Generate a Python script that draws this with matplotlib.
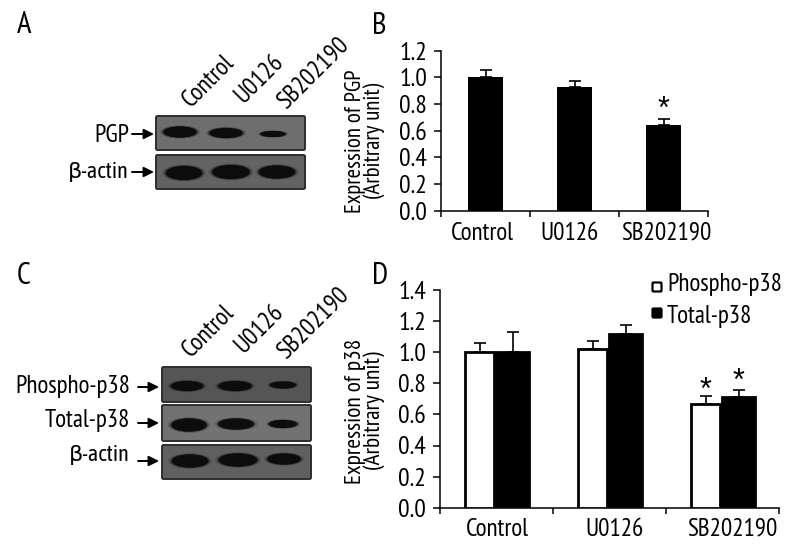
import matplotlib
matplotlib.use("Agg")
import matplotlib.pyplot as plt
from matplotlib.patches import Ellipse, FancyBboxPatch
import logging
logging.getLogger('matplotlib.font_manager').setLevel(logging.ERROR)

FONT = ['PT Sans Narrow', 'Barlow Condensed', 'Asap Condensed', 'DejaVu Sans']
BETA_FONT = ['Asap Condensed', 'PT Sans Narrow', 'DejaVu Sans']
STAR_FONT = ['Liberation Sans', 'DejaVu Sans']
plt.rcParams['font.family'] = FONT

# ---------- data ----------
groups = ['Control', 'U0126', 'SB202190']
pgp_values = [1.00, 0.93, 0.645]
pgp_err = [0.055, 0.045, 0.045]
pgp_yticks = [0.0, 0.2, 0.4, 0.6, 0.8, 1.0, 1.2]
phospho_values = [1.00, 1.02, 0.665]
phospho_err = [0.06, 0.05, 0.055]
total_values = [1.00, 1.115, 0.715]
total_err = [0.13, 0.06, 0.045]
p38_yticks = [0.0, 0.2, 0.4, 0.6, 0.8, 1.0, 1.2, 1.4]
series_names = ['Phospho-p38', 'Total-p38']

W, H = 800, 548
fig = plt.figure(figsize=(8, 5.48), dpi=100, facecolor='white')

def axpx(x0, x1, ytop, ybot):
    return fig.add_axes([x0 / W, 1 - ybot / H, (x1 - x0) / W, (ybot - ytop) / H])

def style(ax):
    for s in ('top', 'right'):
        ax.spines[s].set_visible(False)
    for s in ('left', 'bottom'):
        ax.spines[s].set_linewidth(1.1)
    ax.tick_params(axis='y', length=5, width=1.1, labelsize=18.5, pad=5)
    ax.set_xlim(0, 3)
    ax.set_xticks([0, 1, 2, 3])
    ax.set_xticklabels([])
    ax.tick_params(axis='x', length=4, width=1.1, direction='out')
    ax.patch.set_alpha(0)

# ---------- panel B ----------
axb = axpx(441, 708, 50.7, 210.5)
style(axb)
xb = [i + 0.5 for i in range(3)]
axb.bar(xb, pgp_values, width=0.39, color='black')
axb.errorbar(xb, pgp_values, yerr=[[0] * 3, pgp_err], fmt='none', ecolor='black',
             elinewidth=1.2, capsize=4, capthick=1.2)
axb.set_ylim(0, 1.2)
axb.set_yticks(pgp_yticks)
axb.set_yticklabels([f'{v:.1f}' for v in pgp_yticks])
axb.text(xb[2], pgp_values[2] + pgp_err[2] - 0.05, '*', ha='center', va='bottom', fontsize=22,
         family=STAR_FONT)
for x, g, dx in zip(xb, groups, [-0.03, -0.06, 0.03]):
    axb.text(x + dx, -0.085, g, ha='center', va='top', fontsize=18, clip_on=False)
fig.text(365 / W, 1 - 141 / H, 'Expression of PGP\n(Arbitrary unit)', rotation=90, ha='center',
         va='center', fontsize=16.5, linespacing=0.88)

# ---------- panel D ----------
axd = axpx(440, 779, 290, 507.7)
style(axd)
w_white = 0.257
w_black = 0.292
xd = [i + 0.5 for i in range(3)]
xp = [x - 0.15 for x in xd]
xt = [x + 0.1416 for x in xd]
axd.errorbar(xp, phospho_values, yerr=[[0] * 3, phospho_err], fmt='none', ecolor='black',
             elinewidth=1.2, capsize=4, capthick=1.2)
axd.errorbar(xt, total_values, yerr=[[0] * 3, total_err], fmt='none', ecolor='black',
             elinewidth=1.2, capsize=4, capthick=1.2)
axd.bar(xp, phospho_values, width=w_white, facecolor='white', edgecolor='black', linewidth=2, zorder=3)
axd.bar(xt, total_values, width=w_black, color='black', edgecolor='black', linewidth=2, zorder=3)
axd.set_ylim(0, 1.4)
axd.set_yticks(p38_yticks)
axd.set_yticklabels([f'{v:.1f}' for v in p38_yticks])
axd.text(xp[2], phospho_values[2] + phospho_err[2] - 0.065, '*', ha='center', va='bottom', fontsize=22,
         family=STAR_FONT)
axd.text(xt[2], total_values[2] + total_err[2] - 0.045, '*', ha='center', va='bottom', fontsize=22,
         family=STAR_FONT)
for x, g, dx in zip(xd, groups, [0.01, 0.045, 0.09]):
    axd.text(x + dx, -0.065, g, ha='center', va='top', fontsize=18, clip_on=False)
fig.text(365 / W, 1 - 411 / H, 'Expression of p38\n(Arbitrary unit)', rotation=90, ha='center',
         va='center', fontsize=16.8, linespacing=0.88)

# ---------- overlay in pixel coordinates ----------
ov = fig.add_axes([0, 0, 1, 1], zorder=5)
ov.set_xlim(0, W)
ov.set_ylim(H, 0)
ov.axis('off')

# legend
for (yy, ty, fc), name in zip([(287, 285, 'white'), (313, 316, 'black')], series_names):
    ov.add_patch(FancyBboxPatch((652.5, yy - 4.5), 9, 9, boxstyle='round,pad=0,rounding_size=1',
                                fc=fc, ec='black', lw=1.6))
    ov.text(667, ty, name, ha='left', va='center', fontsize=18)

# panel letters
for (x, y), t in zip([(17, 25), (372, 26), (17, 276), (372, 276)], 'ABCD'):
    ov.text(x, y, t, ha='left', va='center', fontsize=22)

# blots: rectangle (x0, x1, y0, y1) and face colour
blots_a = [(156, 305, 116, 150, '#6e6e6e'), (156, 305, 155, 189, '#636363')]
blots_c = [(162, 311, 367, 402, '#555555'), (162, 311, 405, 441, '#727272'),
           (162, 311, 445, 479, '#606060')]
# bands: centre x, centre y, width, height
bands = [(180, 132, 33, 11), (226, 133, 33, 10), (273, 134, 25, 6),
         (184, 173, 36, 14), (231, 172, 37, 14), (277, 172, 36, 13),
         (187, 386, 32, 10), (235, 386, 33, 10), (283, 385, 26, 7),
         (189, 425, 35, 13), (236, 424, 35, 11), (283, 424, 28, 8),
         (190, 461, 36, 13), (238, 460, 38, 13), (284, 459, 33, 11)]
for x0, x1, y0, y1, c in blots_a + blots_c:
    ov.add_patch(FancyBboxPatch((x0, y0), x1 - x0, y1 - y0, boxstyle='round,pad=0,rounding_size=1.5',
                                fc=c, ec='#2e2e2e', lw=1.4))
for cx, cy, bw, bh in bands:
    for k, a in [(1.22, 0.15), (1.12, 0.3), (1.05, 0.5), (1.0, 1.0)]:
        ov.add_patch(Ellipse((cx, cy), bw * k, bh * k, fc='#0c0c0c', ec='none', alpha=a))
    ov.add_patch(FancyBboxPatch((cx - bw * 0.32, cy - bh * 0.28), bw * 0.64, bh * 0.56,
                                boxstyle=f'round,pad={bh * 0.1},rounding_size={bh * 0.3}',
                                fc='#0c0c0c', ec='none'))

# rotated lane labels
lane_a = [(191, 108), (243, 104), (286, 110)]
lane_c = [(191, 358), (243, 354), (286, 360)]
for pts in (lane_a, lane_c):
    for (x, y), g in zip(pts, groups):
        ov.text(x, y, g, rotation=45, rotation_mode='anchor', ha='left', va='baseline', fontsize=18)

# blot labels and arrows: text, right edge, text y, arrow x0, x1, arrow y
rows = [('PGP', 129, 135, 132, 154, 134), ('β-actin', 129, 172, 132, 154, 172),
        ('Phospho-p38', 130, 387, 138, 159, 387), ('Total-p38', 130, 421, 138, 159, 423),
        ('β-actin', 130, 455, 138, 159, 461)]
for t, xr, ty, a0, a1, ay in rows:
    beta = t.startswith('β')
    ov.text(xr, ty, t, ha='right', va='center', fontsize=16 if beta else 18,
            family=BETA_FONT if beta else FONT)
    ov.annotate('', xy=(a1, ay), xytext=(a0, ay),
                arrowprops=dict(arrowstyle='-|>,head_width=0.3,head_length=0.6', color='black', lw=1.4,
                                shrinkA=0, shrinkB=0))

fig.savefig('out.png', dpi=100, facecolor='white')
